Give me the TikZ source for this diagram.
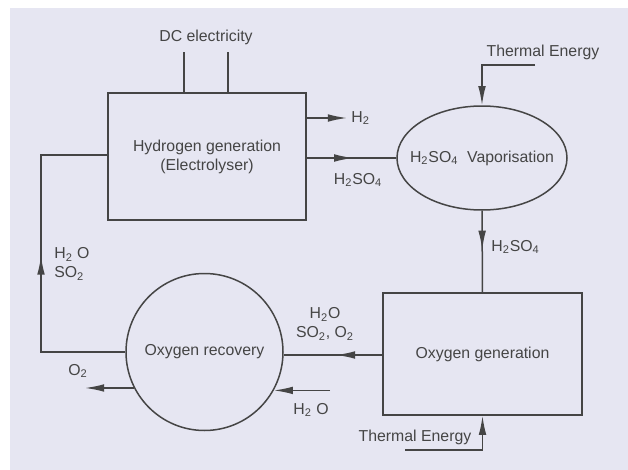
\documentclass[tikz,border=0pt]{standalone}
\usepackage{fontspec}
\setmainfont{Liberation Sans}
\usetikzlibrary{arrows.meta,shapes.geometric,decorations.markings}
\definecolor{paper}{HTML}{E6E6F2}
\definecolor{ink}{HTML}{454545}

\begin{document}
\begin{tikzpicture}[
    x=0.6pt, y=-0.6pt,
    font=\fontsize{9.5}{11.5}\selectfont, text=ink,
    unit/.style={rectangle, draw=ink, line width=0.9pt, align=center, inner sep=0pt},
    vessel/.style={ellipse, draw=ink, line width=0.9pt, inner sep=0pt},
    flow/.style={draw=ink, line width=0.9pt},
    arrow/.style={flow, -{Latex[length=11.5pt,width=4.6pt]}},
    midarrow/.style={flow, postaction={decorate}, decoration={markings, mark=at position #1 with {\arrow{Latex[length=11.5pt,width=4.6pt]}}}},
    tag/.style={inner sep=0pt, align=left}
]
% page and background
\useasboundingbox (0,0) rectangle (628,470);
\fill[paper] (10,8) rectangle (628,470);

% Units
\node[unit, minimum width=118.8pt, minimum height=76.2pt] (hgen) at (207,156.5) {Hydrogen generation\\(Electrolyser)};
\node[vessel, minimum width=102pt, minimum height=62.4pt] (vap) at (482,158) {};
\node[tag] (vaplbl) at (vap.center) {H\textsubscript{2}SO\textsubscript{4}\ \ Vaporisation};
\node[unit, minimum width=119.4pt, minimum height=73.2pt] (ogen) at (482.5,354) {Oxygen generation};
\node[vessel, minimum width=94.2pt, minimum height=94.2pt] (orec) at (204.5,352) {};
\node[tag] (oreclbl) at (orec.center) {Oxygen recovery};

% Free ends
\coordinate (dc1) at (184,52);
\coordinate (dc2) at (228,52);
\coordinate (h2end) at (347,118);
\coordinate (th1) at (535,65);
\coordinate (th2) at (405,450);
\coordinate (o2end) at (85,388);
\coordinate (h2oin) at (330,390);
\coordinate (loopb) at (41,352);
\coordinate (loopt) at (41,155);

% Labels
\node[tag] (dclbl) at (206,37) {DC electricity};
\node[tag, anchor=west] (h2lbl) at (351,118) {H\textsubscript{2}};
\node[tag] (acidlbl) at (358,180) {H\textsubscript{2}SO\textsubscript{4}};
\node[tag] (th1lbl) at (543,52) {Thermal Energy};
\node[tag, anchor=west] (acid2lbl) at (491,247) {H\textsubscript{2}SO\textsubscript{4}};
\node[tag, align=center] (gaslbl) at (325,324) {H\textsubscript{2}O\\SO\textsubscript{2}, O\textsubscript{2}};
\node[tag, anchor=west] (retlbl) at (54,264) {H\textsubscript{2} O\\SO\textsubscript{2}};
\node[tag] (o2lbl) at (78,371) {O\textsubscript{2}};
\node[tag] (h2olbl) at (311,410) {H\textsubscript{2} O};
\node[tag] (th2lbl) at (415,437) {Thermal Energy};

% Connectors
\draw[flow] (dc1) -- (dc1 |- hgen.north);
\draw[flow] (dc2) -- (dc2 |- hgen.north);
\draw[arrow] (hgen.east |- h2end) -- (h2end);
\draw[midarrow=0.52] (hgen.east |- vap.west) -- (vap.west);
\draw[arrow] (th1) -| (vap.north);
\draw[midarrow=0.48] (vap.south) -- (ogen.north);
\draw[midarrow=0.47] (ogen.west |- 0,355) -- (orec.east |- 0,355);
\draw[midarrow=0.52] (orec.west) -- (loopb) -- (loopt) -- (hgen.west |- loopt);
\draw[arrow] (orec.207) -- (orec.207 -| o2end);
\draw[arrow] (orec.331 -| h2oin) -- (orec.331);
\draw[arrow] (th2) -| (ogen.south);

\end{tikzpicture}
\end{document}
